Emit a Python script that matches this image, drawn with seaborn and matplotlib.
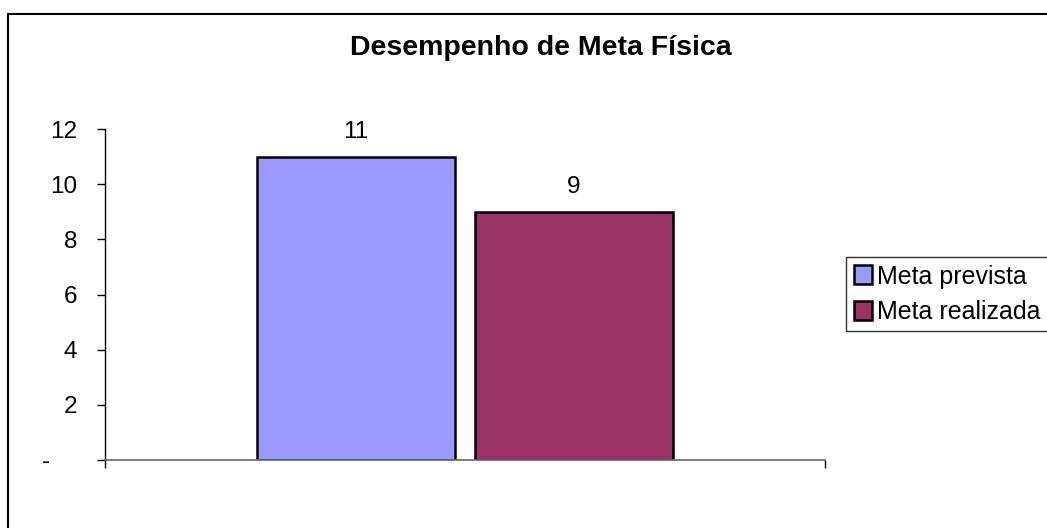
import pandas as pd
import matplotlib
matplotlib.use('Agg')
import matplotlib.pyplot as plt
import matplotlib.patches as mpatches
import seaborn as sns

# dados do gráfico
series = ['Meta prevista', 'Meta realizada']
valores = [11, 9]
cores = ['#9999FF', '#993366']
yticks = [0, 2, 4, 6, 8, 10, 12]
ytick_labels = ['-    ', '2', '4', '6', '8', '10', '12']

df = pd.DataFrame({'grupo': ['', ''], 'serie': series, 'valor': valores})

sns.set_theme(style='white')
plt.rcParams['font.family'] = ['Liberation Sans', 'DejaVu Sans']
plt.rcParams['text.color'] = 'black'
plt.rcParams['xtick.color'] = 'black'
plt.rcParams['ytick.color'] = 'black'
plt.rcParams['axes.labelcolor'] = 'black'

W, H = 1047, 528
fig = plt.figure(figsize=(W / 100, H / 100), dpi=100)
ax = fig.add_axes([105 / W, 1 - 460 / H, 720 / W, (460 - 129) / H])

sns.barplot(data=df, x='grupo', y='valor', hue='serie', palette=cores,
            saturation=1, width=0.605, gap=0.09, edgecolor='black',
            linewidth=1.8, legend=False, ax=ax)

ax.set_xlim(-0.5, 0.5)
ax.set_ylim(0, 12)
ax.set_yticks(yticks)
ax.set_yticklabels(ytick_labels)
ax.set_xticks([-0.5, 0.5])
ax.set_xticklabels(['', ''])
ax.set_xlabel('')
ax.set_ylabel('')
ax.tick_params(axis='y', direction='out', length=6, width=1, color='black',
               pad=14, labelsize=17.5, labelcolor='black', left=True)
ax.tick_params(axis='x', direction='out', length=6, width=1, color='black',
               bottom=True)
for s in ['top', 'right']:
    ax.spines[s].set_visible(False)
ax.spines['left'].set_color('black')
ax.spines['left'].set_linewidth(1)
ax.spines['bottom'].set_color('#666666')
ax.spines['bottom'].set_linewidth(1.2)

for cont in ax.containers:
    ax.bar_label(cont, fmt='%d', padding=10, fontsize=17.5, color='black')

# título
fig.text(541 / W, 1 - 55 / H, 'Desempenho de Meta Física', ha='center',
         va='baseline', fontsize=20.5, fontweight='bold', color='black')

# legenda
handles = [mpatches.Patch(facecolor=c, edgecolor='black', linewidth=1.8, label=s)
           for c, s in zip(cores, series)]
leg = fig.legend(handles=handles, loc='upper left',
                 bbox_to_anchor=(846 / W, 1 - 257 / H), borderaxespad=0,
                 fontsize=18, frameon=True, fancybox=False, shadow=False,
                 handlelength=0.75, handleheight=0.8, handletextpad=0.2,
                 labelspacing=0.45, borderpad=0.3)
leg.get_frame().set_edgecolor('black')
leg.get_frame().set_linewidth(1)
for t in leg.get_texts():
    t.set_color('black')

# moldura da área do gráfico
fig.patches.append(mpatches.Rectangle((8 / W, -0.1), 1.2, 1 - 14 / H + 0.1,
                                      transform=fig.transFigure, fill=False,
                                      edgecolor='black', linewidth=1.5))

fig.savefig('out.png', dpi=100)
